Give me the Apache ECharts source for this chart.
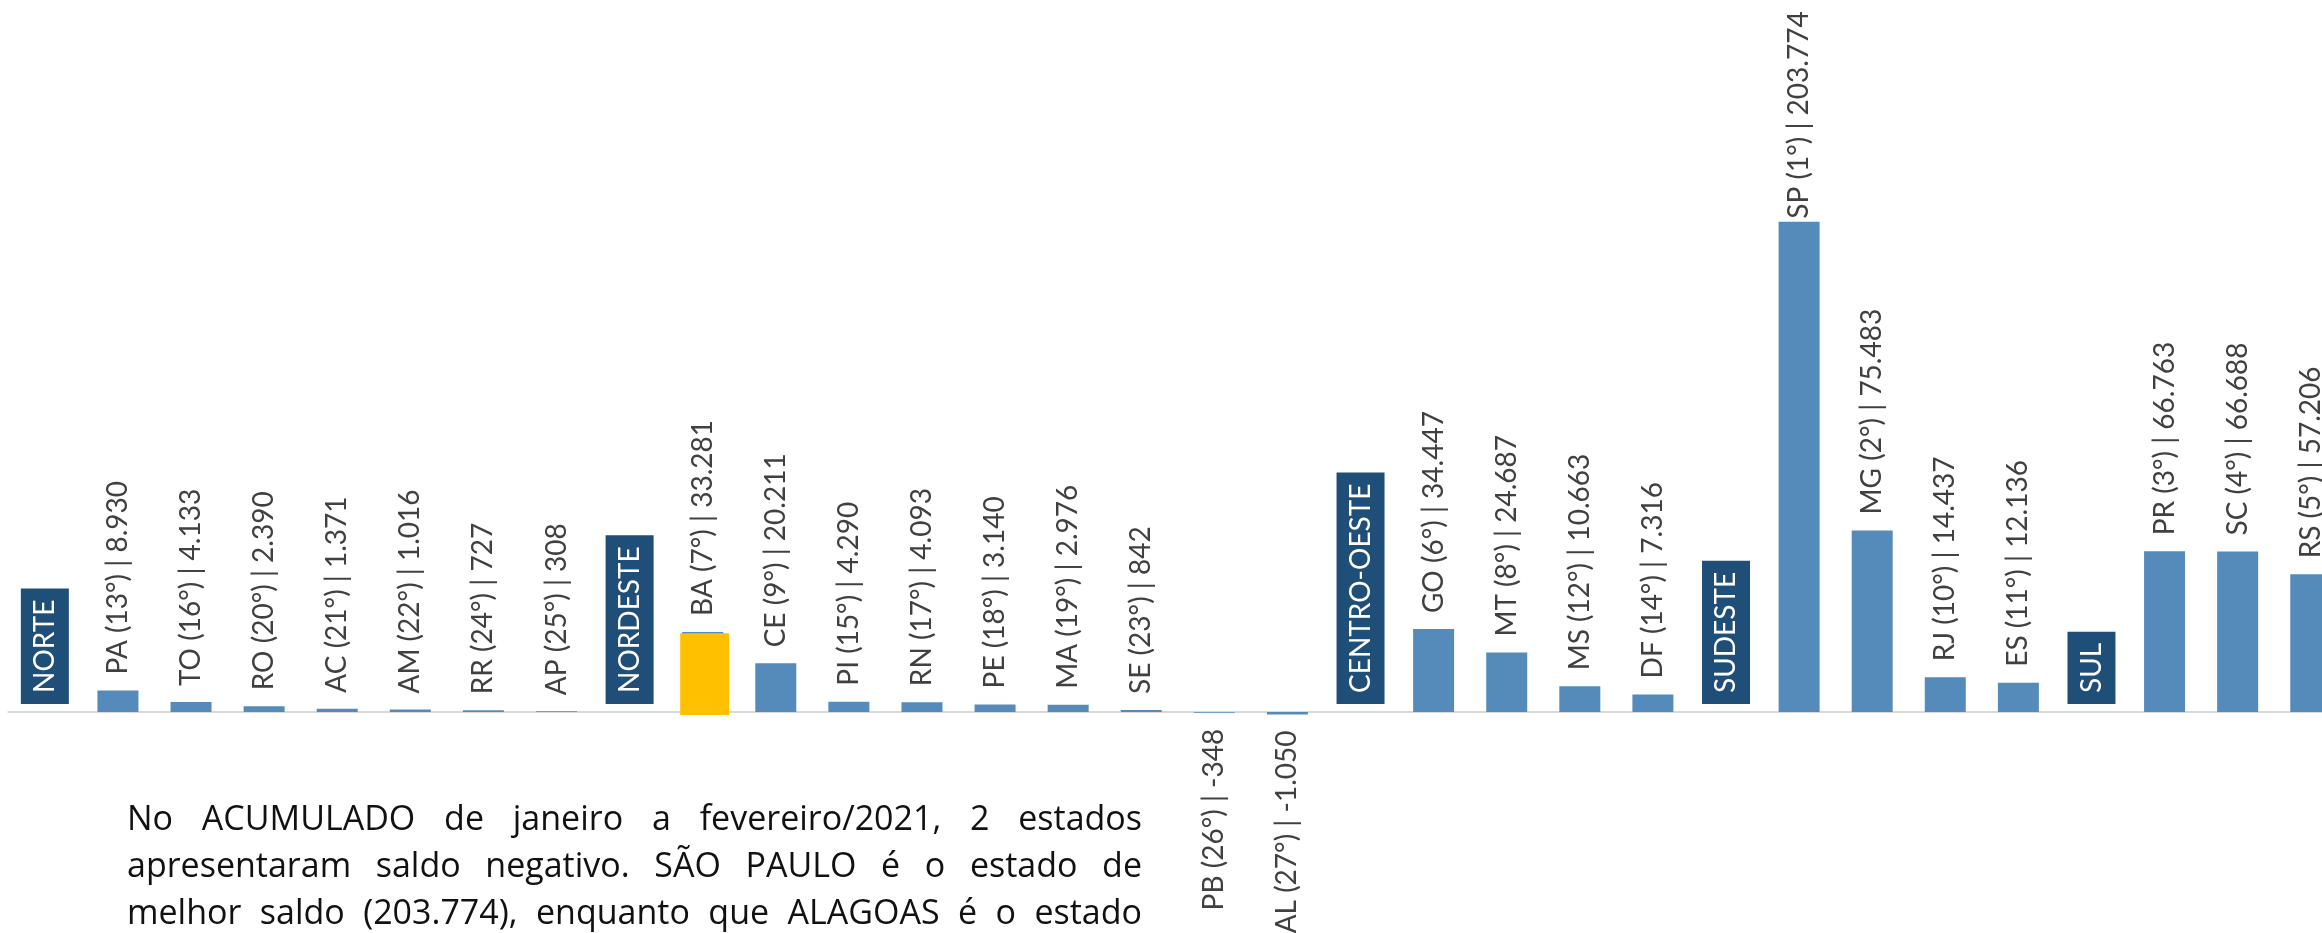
<!DOCTYPE html>
<html>
<head>
<meta charset="utf-8">
<script src="https://cdn.jsdelivr.net/npm/echarts@6/dist/echarts.min.js"></script>
<style>
  html, body { margin: 0; padding: 0; background: #fff; }
  #chart { width: 2322px; height: 933px; }
</style>
</head>
<body>
<div id="chart"></div>
<script>
// categorias (regiões + estados), ranking e saldo acumulado
const categories = ['NORTE', 'PA', 'TO', 'RO', 'AC', 'AM', 'RR', 'AP',
  'NORDESTE', 'BA', 'CE', 'PI', 'RN', 'PE', 'MA', 'SE', 'PB', 'AL',
  'CENTRO-OESTE', 'GO', 'MT', 'MS', 'DF',
  'SUDESTE', 'SP', 'MG', 'RJ', 'ES',
  'SUL', 'PR', 'SC', 'RS'];
const ranks = [null, 13, 16, 20, 21, 22, 24, 25,
  null, 7, 9, 15, 17, 18, 19, 23, 26, 27,
  null, 6, 8, 12, 14,
  null, 1, 2, 10, 11,
  null, 3, 4, 5];
const saldo = [null, 8930, 4133, 2390, 1371, 1016, 727, 308,
  null, 33281, 20211, 4290, 4093, 3140, 2976, 842, -348, -1050,
  null, 34447, 24687, 10663, 7316,
  null, 203774, 75483, 14437, 12136,
  null, 66763, 66688, 57206];
const regions = ['NORTE', 'NORDESTE', 'CENTRO-OESTE', 'SUDESTE', 'SUL'];
const highlight = 'BA';
const noteLines = [
  'No ACUMULADO de janeiro a fevereiro/2021, 2 estados',
  'apresentaram saldo negativo. SÃO PAULO é o estado de',
  'melhor saldo (203.774), enquanto que ALAGOAS é o estado'
];

const FONT = 'Lato';

function fmt(v) {
  const s = String(Math.abs(v)).replace(/\B(?=(\d{3})+(?!\d))/g, '.');
  return (v < 0 ? '-' : '') + s;
}

const barData = categories.map((c, i) => {
  if (regions.includes(c)) {
    return {
      value: 0,
      label: {
        position: 'top',
        distance: 8,
        formatter: c,
        color: '#fff',
        backgroundColor: '#1F4E79',
        padding: [10, 11],
        lineHeight: 28
      }
    };
  }
  const v = saldo[i];
  const item = { value: v, label: { formatter: `${c} (${ranks[i]}°) | ${fmt(v)}` } };
  if (v < 0) {
    item.label.position = 'bottom';
    item.label.align = 'right';
  }
  if (c === 'SP') item.label.distance = 3;
  return item;
});

const hiIdx = categories.indexOf(highlight);

// texto explicativo justificado
const NOTE_FONT = '34px "Open Sans"';
const noteLeft = 127, noteRight = 1142, noteTop = 820, noteStep = 47;
const ctx = document.createElement('canvas').getContext('2d');
ctx.font = NOTE_FONT;
const noteGraphics = [];
noteLines.forEach((line, li) => {
  const words = line.split(' ');
  const widths = words.map(w => ctx.measureText(w).width);
  const total = widths.reduce((a, b) => a + b, 0);
  const gap = (noteRight - noteLeft - total) / (words.length - 1);
  let x = noteLeft;
  words.forEach((w, wi) => {
    noteGraphics.push({
      type: 'text',
      x: x,
      y: noteTop + li * noteStep,
      silent: true,
      style: { text: w, font: NOTE_FONT, fill: '#111', verticalAlign: 'middle' }
    });
    x += widths[wi] + gap;
  });
});

const chart = echarts.init(document.getElementById('chart'));
chart.setOption({
  animation: false,
  backgroundColor: '#fff',
  textStyle: { fontFamily: FONT },
  grid: { left: 8.3, top: 14.3, width: 2339, height: 914.2, containLabel: false, outerBoundsMode: 'none' },
  xAxis: {
    type: 'category',
    data: categories,
    axisTick: { show: false },
    axisLabel: { show: false },
    axisLine: { lineStyle: { color: '#D9D9D9', width: 2 } },
    z: 1
  },
  yAxis: {
    type: 'value',
    min: -90000,
    max: 290000,
    show: false,
    splitLine: { show: false }
  },
  series: [{
    type: 'bar',
    data: barData,
    barWidth: 41,
    z: 3,
    itemStyle: { color: '#548BBA' },
    label: {
      show: true,
      position: 'top',
      distance: 16,
      rotate: 90,
      align: 'left',
      verticalAlign: 'middle',
      fontFamily: FONT,
      fontSize: 28,
      color: '#404040'
    }
  }, {
    // destaque amarelo sobre a barra da BA
    type: 'custom',
    z: 4,
    silent: true,
    data: [[hiIdx, saldo[hiIdx]]],
    renderItem(params, api) {
      const top = api.coord([api.value(0), api.value(1)]);
      const base = api.coord([api.value(0), 0]);
      return {
        type: 'rect',
        shape: { x: top[0] - 22.5, y: top[1] + 1.3, width: 49, height: base[1] - top[1] + 1.7 },
        style: { fill: '#FFC000' }
      };
    }
  }],
  graphic: noteGraphics
});
</script>
</body>
</html>
